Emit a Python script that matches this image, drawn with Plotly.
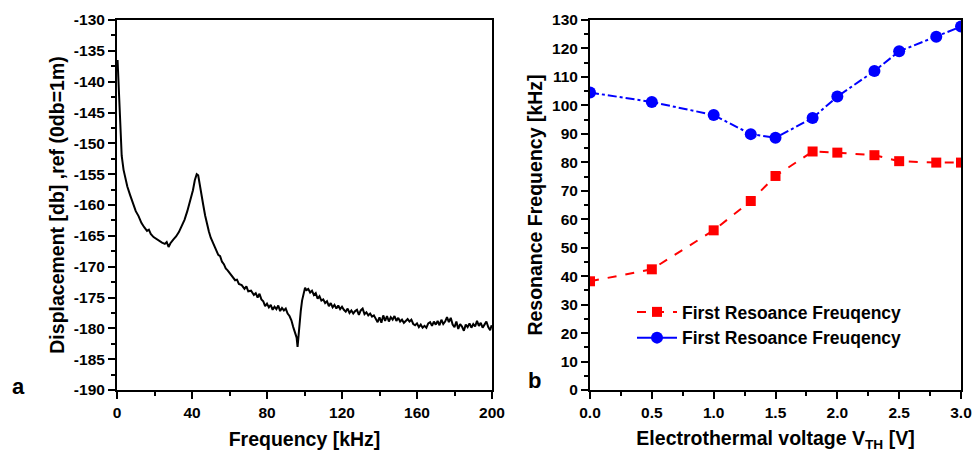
import plotly.graph_objects as go

# ---- Panel a: displacement spectrum ----
freq_khz = [0.3, 0.8, 1.2, 1.8, 2.5, 3.5, 4.5, 5.5, 7, 8.5, 10, 11.5, 13, 14.5, 16, 17, 18, 19.5, 21, 22.5,
            24, 25.5, 26.5, 27.5, 28.5, 30, 31.5, 33, 34.5, 36, 37.5, 39, 40.5, 41.5, 42.5, 43.3, 44, 45, 46, 47,
            48, 49, 50, 51, 52, 53, 54, 55, 56, 57, 58, 59, 60, 61.5, 63, 64, 65, 66.5, 68, 69,
            70, 71.5, 73, 74, 75, 76, 77, 78, 79, 80, 81, 82, 83, 84, 85, 86, 87, 88, 89, 90,
            91, 92, 93, 94, 95, 95.8, 96.3, 96.8, 97.3, 98, 98.7, 99.5, 100.3, 101, 102, 103, 104, 105, 106, 107,
            108, 109, 110, 111, 112, 113, 114, 115, 116, 117, 118, 119, 120, 121, 122, 123, 124, 125, 126, 127,
            128, 129, 130, 131, 132, 133, 134, 135, 136, 137, 138, 139, 140, 141, 142, 143, 144, 145, 146, 147,
            148, 149, 150, 151, 152, 153, 154, 155, 156, 157, 158, 159, 160, 161, 162, 163, 164, 165, 166, 167,
            168, 169, 170, 171, 172, 173, 174, 175, 176, 177, 178, 179, 180, 181, 182, 183, 184, 185, 186, 187,
            188, 189, 190, 191, 192, 193, 194, 195, 196, 197, 198, 199, 199.8]
disp_db = [-136.5, -140, -144, -149, -152, -154.3, -155.8, -157, -158.4, -159.6, -161, -161.8, -162.9, -163.6, -164.2, -164.0, -164.7, -165.2, -165.5, -165.9,
           -166.1, -166.3, -166.0, -166.8, -166.2, -165.6, -165.1, -164.4, -163.5, -162.4, -161.0, -159.5, -157.6, -156.0, -155.0, -155.2, -156.3, -158.0, -160.0, -161.7,
           -163.1, -164.3, -165.3, -166.0, -166.7, -167.3, -168.1, -168.3, -169.2, -169.6, -170.3, -170.6, -171.0, -171.6, -172.2, -172.1, -172.8, -173.0, -173.6, -173.2,
           -174.0, -173.9, -174.6, -174.3, -175.0, -174.4, -175.3, -175.6, -176.4, -176.0, -176.6, -176.2, -177.0, -176.5, -176.9, -176.3, -177.2, -176.7, -177.1, -176.8,
           -177.6, -178.0, -178.7, -179.8, -180.6, -181.5, -183.0, -181.0, -179.3, -177.2, -175.5, -174.1, -173.4, -173.8, -173.6, -174.2, -173.9, -174.6, -174.3, -175.2,
           -174.8, -175.5, -175.3, -175.9, -175.6, -176.4, -175.9, -176.6, -176.2, -176.8, -176.3, -176.9, -176.5, -177.0, -177.3, -176.8, -177.5, -177.1, -177.6, -177.2,
           -177.0, -177.8, -177.1, -176.8, -177.7, -177.4, -177.9, -177.6, -178.1, -177.9, -178.6, -179.0, -178.2, -179.1, -177.9, -178.8, -178.0, -178.9, -178.2, -178.6,
           -178.0, -178.8, -178.3, -178.9, -178.6, -179.1, -178.8, -178.5, -178.9, -178.6, -179.3, -179.5, -179.2, -179.8, -179.4, -179.9, -179.6, -179.9, -179.2, -179.0,
           -179.6, -178.9, -179.4, -178.8, -179.5, -178.6, -179.3, -178.9, -178.2, -179.0, -178.3, -179.4, -179.8, -178.9, -180.1, -179.3, -179.7, -180.4, -179.4, -179.8,
           -179.2, -179.9, -179.3, -179.7, -178.8, -179.6, -179.1, -179.9, -179.4, -178.9, -179.8, -180.3, -179.5]

# ---- Panel b: resonance frequency vs electrothermal voltage ----
voltage_v = [0.0, 0.5, 1.0, 1.3, 1.5, 1.8, 2.0, 2.3, 2.5, 2.8, 3.0]
red_freq_khz = [38.2, 42.4, 56.1, 66.4, 75.2, 83.8, 83.4, 82.5, 80.4, 79.9, 79.9]
blue_freq_khz = [104.5, 101.2, 96.6, 89.9, 88.6, 95.6, 103.1, 112.1, 119.0, 124.1, 127.7]
legend_names = ["First Resoance Freuqency", "First Resoance Freuqency"]

FONT = "Liberation Sans"
RED = "#ff0000"
BLUE = "#0000ff"

fig = go.Figure()
fig.add_trace(go.Scatter(x=freq_khz, y=disp_db, mode="lines",
                         line=dict(color="black", width=2), showlegend=False,
                         xaxis="x", yaxis="y"))
fig.add_trace(go.Scatter(x=voltage_v, y=red_freq_khz, mode="lines+markers",
                         name="<b>" + legend_names[0] + "</b>",
                         line=dict(color=RED, width=2, dash="dash"),
                         marker=dict(symbol="square", size=10, color=RED),
                         xaxis="x2", yaxis="y2"))
fig.add_trace(go.Scatter(x=voltage_v, y=blue_freq_khz, mode="lines+markers",
                         name="<b>" + legend_names[1] + "</b>", showlegend=False,
                         line=dict(color=BLUE, width=2, dash="dashdot"),
                         marker=dict(symbol="circle", size=12, color=BLUE),
                         xaxis="x2", yaxis="y2"))
# legend entry for the blue series (drawn solid in the reference legend)
fig.add_trace(go.Scatter(x=[None], y=[None], mode="lines+markers",
                         name="<b>" + legend_names[1] + "</b>",
                         line=dict(color=BLUE, width=2),
                         marker=dict(symbol="circle", size=12, color=BLUE),
                         xaxis="x2", yaxis="y2"))

tickfont = dict(family=FONT, size=15.5, color="black")
titlefont = dict(family=FONT, size=19.5, color="black")
common = dict(showline=True, linecolor="black", linewidth=2, mirror=True, ticks="outside",
              ticklen=7, tickwidth=2, tickcolor="black", showgrid=False, zeroline=False,
              tickfont=tickfont, automargin=False)
minor = dict(ticks="outside", ticklen=4, tickwidth=2, tickcolor="black", showgrid=False)

yd = [1 - 390 / 452, 1 - 20 / 452]
fig.update_layout(
    width=972, height=452, margin=dict(l=0, r=0, t=0, b=0),
    paper_bgcolor="white", plot_bgcolor="white",
    font=dict(family=FONT, color="black"),
    xaxis=dict(domain=[117 / 972, 492 / 972], range=[0, 200], tickvals=[0, 40, 80, 120, 160, 200],
               ticktext=["<b>%d</b>" % v for v in [0, 40, 80, 120, 160, 200]],
               minor=dict(dtick=20, **minor),
               title=dict(text="<b>Frequency [kHz]</b>", font=titlefont, standoff=13), anchor="y", **common),
    yaxis=dict(domain=yd, range=[-190, -130], tickvals=list(range(-190, -129, 5)),
               ticktext=["<b>%d</b>" % v for v in range(-190, -129, 5)],
               minor=dict(dtick=2.5, **minor),
               title=dict(text="<b>Displacement [db] ,ref (0db=1m)</b>", font=titlefont, standoff=4),
               anchor="x", **common),
    xaxis2=dict(domain=[590 / 972, 961 / 972], range=[0, 3.0], tickvals=[0, 0.5, 1.0, 1.5, 2.0, 2.5, 3.0],
                ticktext=["<b>%.1f</b>" % v for v in [0, 0.5, 1.0, 1.5, 2.0, 2.5, 3.0]],
                minor=dict(dtick=0.25, **minor),
                title=dict(text="<b>Electrothermal voltage V<sub>TH</sub> [V]</b>", font=titlefont, standoff=13),
                anchor="y2", **common),
    yaxis2=dict(domain=yd, range=[0, 130], tickvals=list(range(0, 131, 10)),
                ticktext=["<b>%d</b>" % v for v in range(0, 131, 10)],
                minor=dict(dtick=5, **minor),
                title=dict(text="<b>Resonance Frequency [kHz]</b>", font=titlefont, standoff=4),
                anchor="x2", **common),
    legend=dict(x=632 / 972, y=1 - 294 / 452, xanchor="left", yanchor="top",
                bgcolor="rgba(0,0,0,0)", font=dict(family=FONT, size=17.5, color="black"),
                itemwidth=40, tracegroupgap=0),
    annotations=[
        dict(text="<b>a</b>", x=10 / 972, y=1 - 386 / 452, xref="paper", yref="paper",
             xanchor="left", yanchor="middle", showarrow=False, font=dict(family=FONT, size=22, color="black")),
        dict(text="<b>b</b>", x=526 / 972, y=1 - 380 / 452, xref="paper", yref="paper",
             xanchor="left", yanchor="middle", showarrow=False, font=dict(family=FONT, size=22, color="black")),
    ],
)

fig.write_html("out.html", config={"displayModeBar": False},
               post_script="document.body.style.margin='0';")
